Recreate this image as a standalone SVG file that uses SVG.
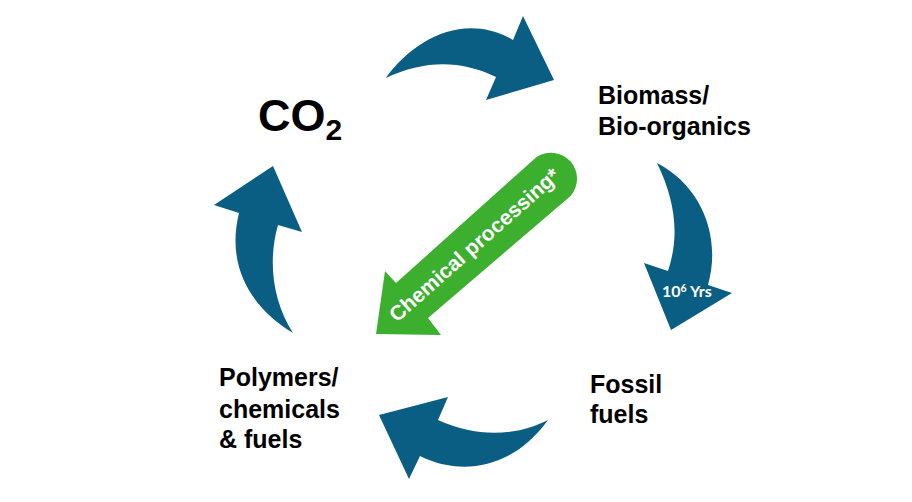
<svg xmlns="http://www.w3.org/2000/svg" width="912" height="502" viewBox="0 0 912 502">
<style>
.a{fill:#0b5e83}
.g{fill:#3cb02e}
text{font-family:"Liberation Sans",Arial,sans-serif;font-weight:700;fill:#000}
.l{font-size:25px}
.w{fill:#fff}
</style>
<rect width="912" height="502" fill="#fff"/>
<g id="connectors">
<path id="arrow-top" class="a" d="M385.7 78C415 38 465 12 513 40L523 16L554 80L486 100L496 77C460 60 425 60 385.7 78Z"/>
<path id="arrow-right" class="a" d="M657 163C700 185 722 235 708 285L732 293L671 330L644 263L668 271C680 235 675 200 657 163Z"/>
<path id="arrow-bottom" class="a" d="M548 420C515 437 475 437 438 420L448 397L379 415L409 479L420 456C460 476 512 470 548 420Z"/>
<path id="arrow-left" class="a" d="M293 333C272 300 268 260 278 225L302 232L273 166L214 205L239 213C225 270 255 310 293 333Z"/>
<path id="arrow-green" class="g" d="M376 334L385 271L396 283L536 157.500A26 26 0 0 1 570 196.500L428 318L441 335Z"/>
</g>
<g id="node-co2"><text x="258" y="131" font-size="45">CO<tspan font-size="30" dy="9">2</tspan></text></g>
<g id="node-biomass"><text class="l" x="598" y="104">Biomass/</text><text class="l" x="598" y="135">Bio-organics</text></g>
<g id="node-fossil"><text class="l" x="590" y="393">Fossil</text><text class="l" x="590" y="423">fuels</text></g>
<g id="node-polymers"><text class="l" x="219" y="386">Polymers/</text><text class="l" x="219" y="418">chemicals</text><text class="l" x="219" y="448">&amp; fuels</text></g>
<g id="label-time"><text class="w" x="662" y="297" font-size="16" style="font-family:Lato,'Liberation Sans',sans-serif">10<tspan font-size="10.500" dy="-5">6</tspan><tspan dy="5"> Yrs</tspan></text></g>
<g id="label-chem"><text class="w" font-size="21" transform="translate(397 323) rotate(-41.500)">Chemical processing*</text></g>
</svg>
